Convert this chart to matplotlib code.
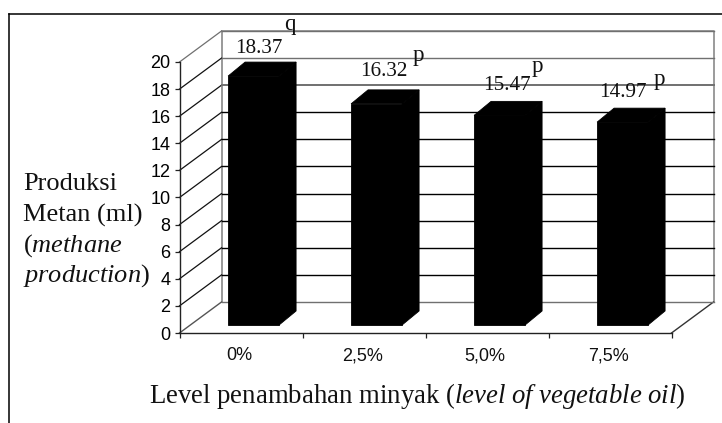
import matplotlib
matplotlib.use('Agg')
import matplotlib.pyplot as plt

# Data
categories = ['0%', '2,5%', '5,0%', '7,5%']
values = [18.37, 16.32, 15.47, 14.97]
letters = ['q', 'p', 'p', 'p']
y_ticks = list(range(0, 21, 2))

W, H = 722, 423

plt.rcParams['font.family'] = 'Liberation Sans'
plt.rcParams['mathtext.fontset'] = 'custom'
plt.rcParams['mathtext.rm'] = 'Liberation Serif'
plt.rcParams['mathtext.it'] = 'Liberation Serif:italic'


def fx(px):
    return px / W


def fy(px):
    return 1 - px / H


fig = plt.figure(figsize=(W / 100, H / 100), dpi=100)

# Front plane of the pseudo 3D box, in pixels
left, right, top, bottom = 179.5, 671.5, 62, 333
ax = fig.add_axes([fx(left), fy(bottom), fx(right) - fx(left), fy(top) - fy(bottom)])
ax.set_xlim(0, 4)
ax.set_ylim(0, 20)
ax.patch.set_visible(False)

# Depth of the box in data units
depth_x = 42 / ((right - left) / 4)
depth_y = 31 / ((bottom - top) / 20)

# Bar geometry in the same units
bar_w = 51 / ((right - left) / 4)
bar_x0 = 0.395
front_dy = 8 / ((bottom - top) / 20)
bar_dx = 17 / ((right - left) / 4)
bar_dy = 14 / ((bottom - top) / 20)

wall_grey = '#808080'

# Back wall and floor
ax.plot([depth_x, depth_x + 4, depth_x + 4], [20 + depth_y, 20 + depth_y, depth_y],
        color=wall_grey, lw=1.1, clip_on=False, zorder=1)
ax.plot([depth_x, depth_x], [depth_y, 20 + depth_y], color='#999999', lw=1.4, clip_on=False, zorder=1)
ax.plot([0, depth_x], [0, depth_y], color='#555555', lw=1, clip_on=False, zorder=1)
ax.plot([4, 4 + depth_x], [0, depth_y], color='#333333', lw=1, clip_on=False, zorder=1)

# Grid lines across the wall and down the side
for t in y_ticks:
    if t >= 16:
        col = '#707070'
    elif t == 0:
        col = '#707070'
    else:
        col = 'black'
    if t > 0:
        ax.plot([0, depth_x], [t, t + depth_y], color=('#707070' if t == 20 else '#111111'),
                lw=0.9, clip_on=False, zorder=1)
    ax.plot([depth_x, depth_x + 4], [t + depth_y, t + depth_y], color=col,
            lw=(1.4 if t == 16 else 1), clip_on=False, zorder=1)

# Bars: front face, top and side
solid = dict(facecolor='black', edgecolor='black', lw=0.6, zorder=3, clip_on=False)
for i, v in enumerate(values):
    x0 = i + bar_x0
    ax.bar(x0, v, width=bar_w, bottom=front_dy, align='edge', **solid)
    ax.fill([x0, x0 + bar_dx, x0 + bar_w + bar_dx, x0 + bar_w],
            [v + front_dy, v + front_dy + bar_dy, v + front_dy + bar_dy, v + front_dy], **solid)
    ax.fill([x0 + bar_w, x0 + bar_w + bar_dx, x0 + bar_w + bar_dx, x0 + bar_w],
            [front_dy, front_dy + bar_dy, v + front_dy + bar_dy, v + front_dy], **solid)

# Axes
ax.spines['top'].set_visible(False)
ax.spines['right'].set_visible(False)
for s in ['left', 'bottom']:
    ax.spines[s].set_linewidth(1)
    ax.spines[s].set_color('#222222')
ax.set_yticks(y_ticks)
ax.set_xticks(range(5))
ax.set_xticklabels([])
ax.tick_params(axis='y', length=3.6, width=0.9, labelsize=13, pad=3, direction='out', color='#222222')
ax.tick_params(axis='x', length=3.6, width=0.9, direction='out', color='#222222')
for i, c in enumerate(categories):
    ax.text(i + 0.485, -2.0, c, ha='center', va='baseline', fontsize=13, color='#111111')

# Value labels and significance letters
label_px = [(259, 53), (384, 76), (507, 90), (623, 97)]
letter_px = [(290, 30), (418, 61), (537, 72), (659, 85)]
for v, l, (lx, ly), (qx, qy) in zip(values, letters, label_px, letter_px):
    fig.text(fx(lx), fy(ly), f'{v:.2f}', family='Liberation Serif', fontsize=15.2,
             ha='center', va='baseline', color='#111111', zorder=5)
    fig.text(fx(qx), fy(qy), l, family='Liberation Serif', fontsize=16.5,
             ha='center', va='baseline', color='#111111', zorder=5)

# Axis titles
serif = dict(family='Liberation Serif', fontsize=19, color='#111111', va='baseline')
fig.text(fx(23), fy(190), 'Produksi', ha='left', **serif)
fig.text(fx(23), fy(222), 'Metan (ml)', ha='left', **serif)
fig.text(fx(23), fy(252), r'($\mathit{methane}$', ha='left', **serif)
fig.text(fx(23), fy(282), r'$\mathit{production}$)', ha='left', **serif)
serif['fontsize'] = 19.25
fig.text(fx(417.5), fy(402.5), r'Level penambahan minyak ($\mathit{level\ of\ vegetable\ oil}$)',
         ha='center', **serif)

# Outer frame, open at the bottom
frame = dict(color='black', lw=1.1, transform=fig.transFigure, clip_on=False)
fig.add_artist(plt.Line2D([fx(9), fx(9)], [fy(423), fy(13.7)], **frame))
fig.add_artist(plt.Line2D([fx(9), fx(722)], [fy(13.7), fy(13.7)], **frame))

fig.savefig('out.png', dpi=100)
